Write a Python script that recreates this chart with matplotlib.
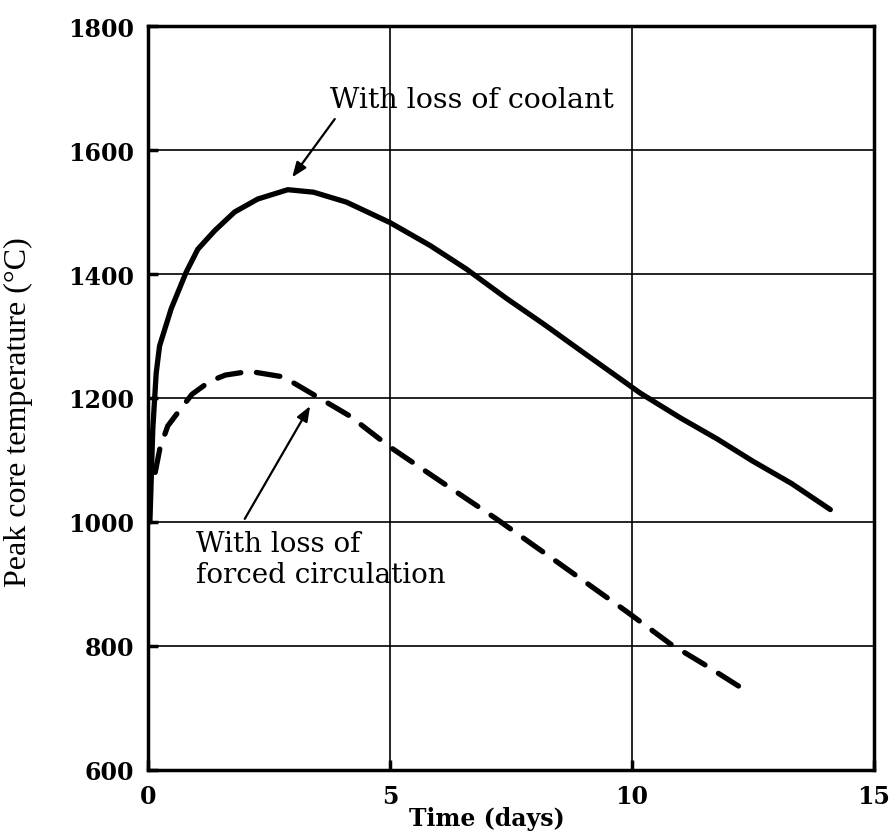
import matplotlib
matplotlib.use("Agg")
import matplotlib.pyplot as plt

# loss of coolant (solid)
coolant_days = [0.04, 0.1, 0.17, 0.24, 0.48, 0.79, 1.03, 1.38, 1.79, 2.27, 2.89, 3.42,
                4.1, 5.0, 5.83, 6.58, 7.42, 8.2, 8.93, 9.92, 10.17, 11.0, 11.76, 12.5,
                13.3, 14.1]
coolant_temp = [1000, 1150, 1240, 1284, 1344, 1403, 1440, 1470, 1500, 1521, 1536, 1532,
                1516, 1483, 1446, 1408, 1360, 1318, 1277, 1222, 1208, 1168, 1134, 1098,
                1062, 1020]

# loss of forced circulation (dashed)
forced_days = [0.15, 0.25, 0.41, 0.7, 0.91, 1.28, 1.6, 2.1, 2.8, 3.41, 4.17, 5.0, 6.0, 7.2,
               8.5, 9.9, 10.8, 11.5, 12.23]
forced_temp = [1080, 1120, 1155, 1185, 1206, 1227, 1237, 1243, 1234, 1206, 1171, 1121, 1068,
               1005, 933, 855, 803, 770, 734]

x_ticks = [0, 5, 10, 15]
y_ticks = [600, 800, 1000, 1200, 1400, 1600, 1800]

serif = "DejaVu Serif"

fig = plt.figure(figsize=(8.94, 8.37), dpi=100)
ax = fig.add_axes([0.1655, 0.0789, 0.812, 0.8888])

ax.plot(coolant_days, coolant_temp, color="black", lw=3.8, solid_capstyle="round",
        solid_joinstyle="round", zorder=3)
ax.plot(forced_days, forced_temp, color="black", lw=3.8, linestyle=(0, (4.5, 3)),
        dash_capstyle="round", dash_joinstyle="round", zorder=3)

ax.set_xlim(0, 15)
ax.set_ylim(600, 1800)
ax.set_xticks(x_ticks)
ax.set_yticks(y_ticks)
ax.grid(True, color="black", lw=1.2)
ax.set_axisbelow(True)
for side in ax.spines.values():
    side.set_linewidth(2.5)

ax.tick_params(direction="in", length=7, width=2.5, labelsize=17, pad=10)
for lab in ax.get_xticklabels() + ax.get_yticklabels():
    lab.set_fontfamily(serif)
    lab.set_fontweight("bold")

ax.set_xlabel("Time (days)", fontsize=17, family=serif, fontweight="bold")
ax.xaxis.set_label_coords(0.467, -0.048)
ax.set_ylabel("Peak core temperature (°C)", fontsize=23, family="Liberation Serif")
ax.yaxis.set_label_coords(-0.158, 0.483)

arrow = dict(arrowstyle="-|>,head_length=0.9,head_width=0.35", color="black", lw=1.6,
             shrinkA=0, shrinkB=0)
ax.annotate("", xy=(2.98, 1556), xytext=(3.86, 1650), arrowprops=arrow)
ax.annotate("", xy=(3.35, 1187), xytext=(2.0, 1005), arrowprops=arrow)

ax.text(3.76, 1682, "With loss of coolant", fontsize=20.5, family=serif,
        ha="left", va="center")
ax.text(1.0, 940, "With loss of\nforced circulation", fontsize=20, family=serif,
        ha="left", va="center", linespacing=1.2)

fig.savefig("out.png", dpi=100)
